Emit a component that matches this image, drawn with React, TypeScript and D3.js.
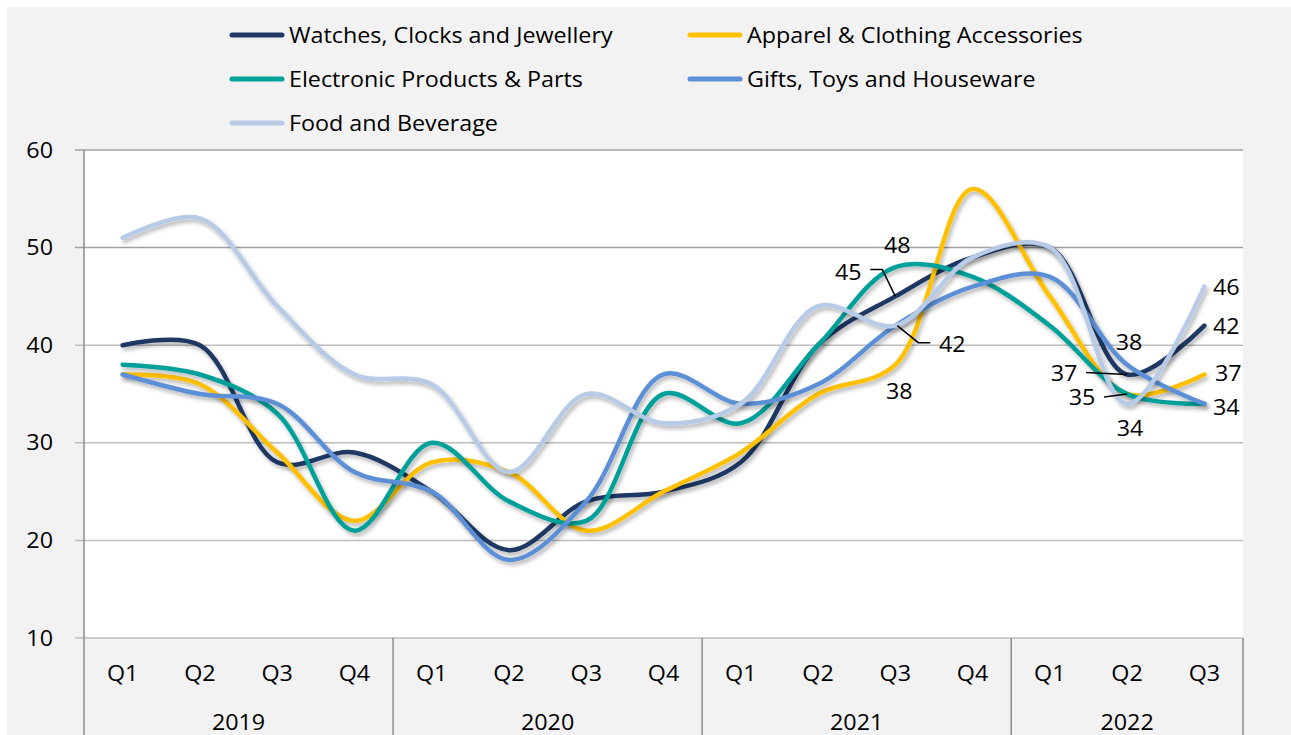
import React, { useEffect, useRef } from "react";
import * as d3 from "d3";

const years = ["2019", "2020", "2021", "2022"];
const quartersPerYear = [4, 4, 4, 3];
const quarterLabels = ["Q1", "Q2", "Q3", "Q4"];

const seriesNames = [
  "Watches, Clocks and Jewellery",
  "Apparel & Clothing Accessories",
  "Electronic Products & Parts",
  "Gifts, Toys and Houseware",
  "Food and Beverage",
];
const seriesColors = ["#1f3864", "#ffc000", "#00a09a", "#5b8fd6", "#b7cbe6"];

const watches = [40, 40, 28, 29, 25, 19, 24, 25, 28, 40, 45, 49, 50, 37, 42];
const apparel = [37, 36, 29, 22, 28, 27, 21, 25, 29, 35, 38, 56, 45, 35, 37];
const electronic = [38, 37, 33, 21, 30, 24, 22, 35, 32, 40, 48, 47, 42, 35, 34];
const gifts = [37, 35, 34, 27, 25, 18, 24, 37, 34, 36, 42, 46, 47, 38, 34];
const food = [51, 53, 44, 37, 36, 27, 35, 32, 34, 44, 42, 49, 50, 34, 46];

const seriesValues = [watches, apparel, electronic, gifts, food];

const yTicks = [10, 20, 30, 40, 50, 60];

// data labels: series index, category index, text offset, optional leader
const dataLabels = [
  { s: 0, i: 10, dx: -47, dy: -24, leader: [[-25, -27], [-13, -27], [0, 0]] },
  { s: 2, i: 10, dx: 2, dy: -22 },
  { s: 4, i: 10, dx: 57, dy: 19, leader: [[2, 0], [23, 17], [35, 17]] },
  { s: 1, i: 10, dx: 4, dy: 27 },
  { s: 3, i: 13, dx: 2, dy: -22 },
  { s: 0, i: 13, dx: -63, dy: -1, leader: [[-41, -2], [0, 0]] },
  { s: 2, i: 13, dx: -45, dy: 3, leader: [[-23, 3], [0, 0]] },
  { s: 4, i: 13, dx: 3, dy: 25 },
  { s: 4, i: 14, dx: 22, dy: 1 },
  { s: 0, i: 14, dx: 22, dy: 1 },
  { s: 1, i: 14, dx: 24, dy: -1 },
  { s: 3, i: 14, dx: 22, dy: 4 },
];

const W = 1291;
const H = 735;
const FONT = "'Open Sans', Lato, sans-serif";
const FS = "21px";
const STRETCH = 1.11; // text in the original is a bit wider than it is tall

const App = () => {
  const svgRef = useRef(null);

  useEffect(() => {
    const svg = d3.select(svgRef.current);
    svg.selectAll("*").remove();

    const addText = (sel, tx, ty, str, anchor = "middle") =>
      sel.append("text")
        .attr("transform", `translate(${tx},${ty}) scale(${STRETCH},1)`)
        .attr("dy", "0.36em")
        .attr("text-anchor", anchor)
        .style("font-family", FONT).style("font-size", FS).attr("fill", "#000")
        .text(str);

    const left = 84, right = 1243, top = 150, bottom = 638;

    const cats = [];
    years.forEach((yr, yi) => {
      for (let q = 0; q < quartersPerYear[yi]; q++) cats.push(`${yr}-${quarterLabels[q]}`);
    });

    const x = d3.scaleBand().domain(cats).range([left, right]);
    const cx = (i) => x(cats[i]) + x.bandwidth() / 2;
    const y = d3.scaleLinear().domain([10, 60]).range([bottom, top]);

    const defs = svg.append("defs");
    const f = defs.append("filter").attr("id", "shadow")
      .attr("x", "-5%").attr("y", "-5%").attr("width", "110%").attr("height", "115%");
    f.append("feDropShadow").attr("dx", 2).attr("dy", 3).attr("stdDeviation", 2)
      .attr("flood-color", "#000").attr("flood-opacity", 0.3);

    svg.append("rect").attr("width", W).attr("height", H).attr("fill", "#fff");
    svg.append("rect").attr("x", 7).attr("y", 7).attr("width", W - 7).attr("height", H - 7).attr("fill", "#f2f2f2");
    svg.append("rect").attr("x", left).attr("y", top).attr("width", right - left).attr("height", bottom - top).attr("fill", "#fff");

    // gridlines + y ticks
    const g = svg.append("g");
    yTicks.forEach((t) => {
      g.append("line")
        .attr("x1", left - 9).attr("x2", right)
        .attr("y1", y(t)).attr("y2", y(t))
        .attr("stroke", t >= 50 ? "#a0a0a0" : "#bdbdbd")
        .attr("stroke-width", 1.5);
      addText(g, 53, y(t), t, "end");
    });

    // y axis line
    g.append("line").attr("x1", left).attr("x2", left).attr("y1", top).attr("y2", H)
      .attr("stroke", "#8c8c8c").attr("stroke-width", 1.5);

    // category axis: quarters and years
    let idx = 0;
    years.forEach((yr, yi) => {
      const n = quartersPerYear[yi];
      const x0 = x(cats[idx]);
      const x1 = x(cats[idx + n - 1]) + x.bandwidth();
      for (let q = 0; q < n; q++) addText(g, cx(idx + q), 673, quarterLabels[q]);
      addText(g, (x0 + x1) / 2, 722, yr);
      g.append("line").attr("x1", x1).attr("x2", x1).attr("y1", bottom).attr("y2", H)
        .attr("stroke", "#8c8c8c").attr("stroke-width", 1.5);
      idx += n;
    });

    // series lines
    const line = d3.line()
      .x((d, i) => cx(i))
      .y((d) => y(d))
      .curve(d3.curveCatmullRom.alpha(0.5));

    seriesValues.forEach((vals, s) => {
      svg.append("path")
        .attr("d", line(vals))
        .attr("fill", "none")
        .attr("stroke", seriesColors[s])
        .attr("stroke-width", 4.5)
        .attr("stroke-linecap", "round")
        .attr("filter", "url(#shadow)");
    });

    // data labels
    dataLabels.forEach((lb) => {
      const px = cx(lb.i);
      const py = y(seriesValues[lb.s][lb.i]);
      if (lb.leader) {
        svg.append("path")
          .attr("d", d3.line()(lb.leader.map(([a, b]) => [px + a, py + b])))
          .attr("fill", "none").attr("stroke", "#000").attr("stroke-width", 1.5);
      }
      addText(svg, px + lb.dx, py + lb.dy, seriesValues[lb.s][lb.i]);
    });

    // legend
    const legendPos = [[230, 35], [688, 35], [230, 79], [688, 79], [230, 123]];
    seriesNames.forEach((name, s) => {
      const [lx, ly] = legendPos[s];
      svg.append("line")
        .attr("x1", lx + 2).attr("x2", lx + 52).attr("y1", ly).attr("y2", ly)
        .attr("stroke", seriesColors[s]).attr("stroke-width", 5).attr("stroke-linecap", "round");
      addText(svg, lx + 59, ly, name, "start");
    });
  }, []);

  return (
    <div style={{ position: "fixed", left: 0, top: 0 }}>
      <svg ref={svgRef} width={W} height={H} style={{ display: "block" }}></svg>
    </div>
  );
};

export default App;
